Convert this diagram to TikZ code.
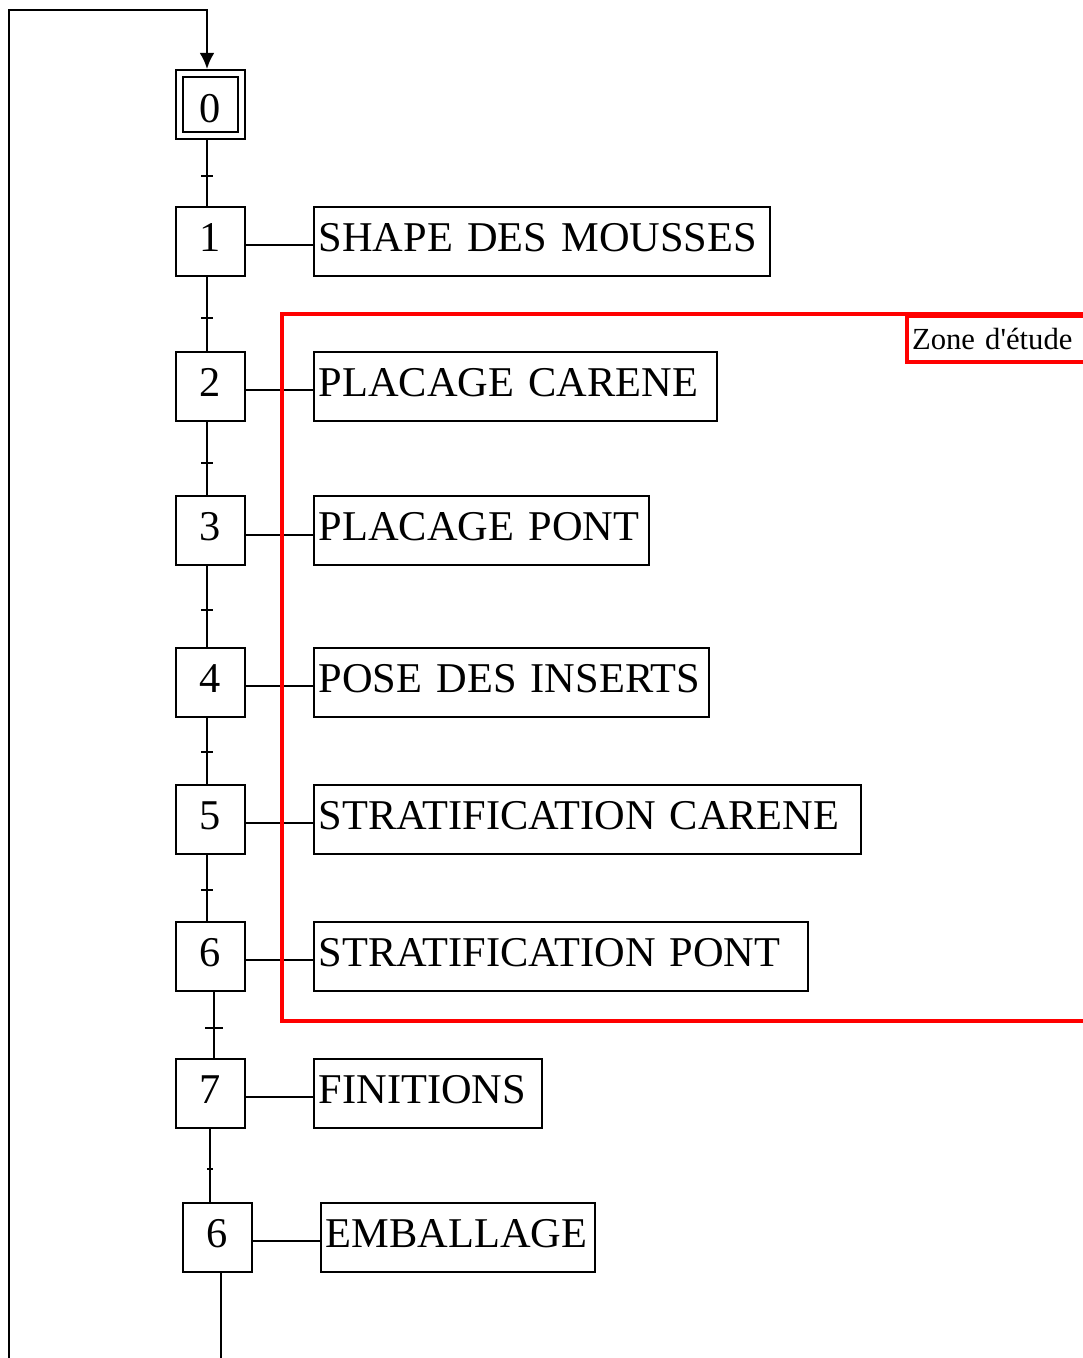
\documentclass[tikz,border=0pt]{standalone}
\usepackage{fontspec}
\setmainfont{Liberation Serif}[WordSpace=0.55]
\usetikzlibrary{arrows.meta}
\begin{document}
\begin{tikzpicture}[x=0.75pt,y=-0.75pt,
  bigfont/.style={font=\fontsize{31.8pt}{36pt}\selectfont},
  stepbox/.style={draw,line width=1.5pt,minimum width=51.75pt,minimum height=51.75pt,inner sep=0pt,bigfont,text height=21.3pt,text depth=6.8pt},
  lbl/.style={draw,line width=1.2pt,anchor=west,minimum height=51.75pt,inner xsep=3.75pt,inner ysep=0pt,align=left,bigfont,text height=21.3pt,text depth=6.8pt},
  wire/.style={line width=1.5pt},
  tick/.style={line width=1.5pt},
  zone/.style={draw=red,line width=3pt}]
\useasboundingbox (0,0) rectangle (1082,1358);
\fill[white] (0,0) rectangle (1082,1358);
% steps
\node[stepbox] (s0) at (210.5,104.5) {};
\node[stepbox,minimum width=41.25pt,minimum height=41.25pt,text height=27pt,text depth=0pt] (s0i) at (210.5,104.5) {0};
\node[stepbox] (s1) at (210.5,241.5) {1};
\node[stepbox] (s2) at (210.5,386.5) {2};
\node[stepbox] (s3) at (210.5,530.5) {3};
\node[stepbox] (s4) at (210.5,682.5) {4};
\node[stepbox] (s5) at (210.5,819.5) {5};
\node[stepbox] (s6) at (210.5,956.5) {6};
\node[stepbox] (s7) at (210.5,1093.5) {7};
\node[stepbox] (s8) at (217.5,1237.5) {6};
% labels
\node[lbl,text width=334.5pt] (l1) at (313,241.5) {SHAPE DES MOUSSES};
\node[lbl,text width=294.75pt] (l2) at (313,386.5) {PLACAGE CARENE};
\node[lbl,text width=243.75pt] (l3) at (313,530.5) {PLACAGE PONT};
\node[lbl,text width=288.75pt] (l4) at (313,682.5) {POSE DES INSERTS};
\node[lbl,text width=402.75pt] (l5) at (313,819.5) {STRATIFICATION CARENE};
\node[lbl,text width=363pt] (l6) at (313,956.5) {STRATIFICATION PONT};
\node[lbl,text width=163.5pt] (l7) at (313,1093.5) {FINITIONS};
\node[lbl,text width=198pt] (l8) at (320,1237.5) {EMBALLAGE};
% step-label connectors
\draw[wire] (s1.east |- 0,245) -- (l1.west |- 0,245);
\draw[wire] (s2.east |- 0,390) -- (l2.west |- 0,390);
\draw[wire] (s3.east |- 0,535) -- (l3.west |- 0,535);
\draw[wire] (s4.east |- 0,686) -- (l4.west |- 0,686);
\draw[wire] (s5.east |- 0,823) -- (l5.west |- 0,823);
\draw[wire] (s6.east |- 0,960) -- (l6.west |- 0,960);
\draw[wire] (s7.east |- 0,1097) -- (l7.west |- 0,1097);
\draw[wire] (s8.east |- 0,1241) -- (l8.west |- 0,1241);
% vertical links
\coordinate (v) at (207,0);
\draw[wire] (s0.south -| v) -- (s1.north -| v);
\draw[wire] (s1.south -| v) -- (s2.north -| v);
\draw[wire] (s2.south -| v) -- (s3.north -| v);
\draw[wire] (s3.south -| v) -- (s4.north -| v);
\draw[wire] (s4.south -| v) -- (s5.north -| v);
\draw[wire] (s5.south -| v) -- (s6.north -| v);
\coordinate (v2) at (214,0);
\draw[wire] (s6.south -| v2) -- (s7.north -| v2);
\coordinate (v3) at (210,0);
\draw[wire] (s7.south -| v3) -- (s8.north -| v3);
\coordinate (bot) at (221,1360);
\draw[wire] (s8.south -| bot) -- (bot);
% transitions
\foreach \ty in {176,318,463,610,752,890} \draw[tick] (201,\ty) -- (213,\ty);
\draw[tick] (205,1028) -- (223,1028);
\draw[tick] (207,1169) -- (213,1169);
% loop back
\coordinate (lb) at (9,1360);
\coordinate (lt) at (9,10);
\draw[wire,-{Latex[length=12pt,width=11pt]}] (lb) -- (lt) -| (s0.north -| v);
% zone
\draw[zone] (1090,314) -- (282,314) -- (282,1021) -- (1090,1021);
\node[zone,anchor=north west,minimum height=34.5pt,inner xsep=3.75pt,inner ysep=0pt,text width=131pt,align=left,font=\fontsize{23pt}{28pt}\selectfont] (z) at (905,314) {Zone d\textquotesingle étude};
\end{tikzpicture}
\end{document}
